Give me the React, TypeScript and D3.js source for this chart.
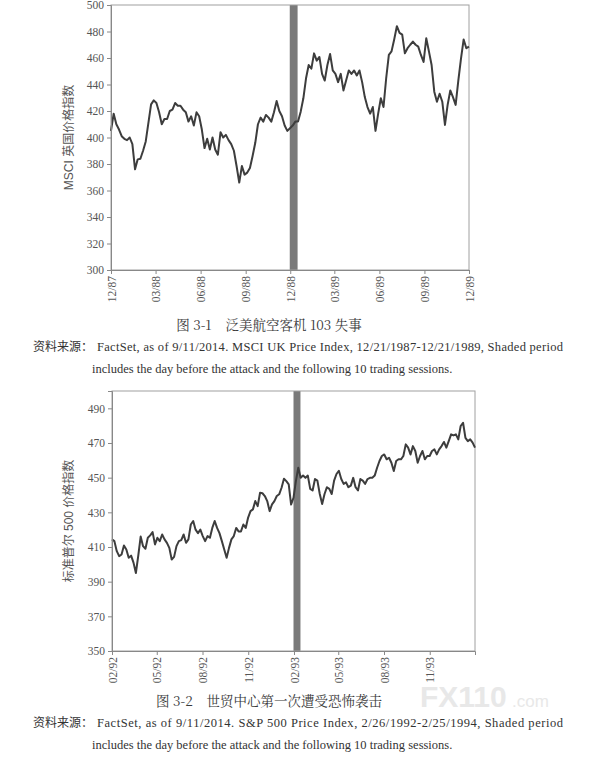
import React, { useEffect, useRef } from "react";
import * as d3 from "d3";

// MSCI UK Price Index, 12/21/1987 - 12/21/1989 (Pan Am 103)
const ukRange = ["1987-12-21", "1989-12-21"];
const ukShade = ["1988-12-20", "1989-01-05"];
const ukTickDates = [
  "1987-12-21", "1988-03-21", "1988-06-21", "1988-09-21", "1988-12-21",
  "1989-03-21", "1989-06-21", "1989-09-21", "1989-12-21",
];
const ukYTicks = [300, 320, 340, 360, 380, 400, 420, 440, 460, 480, 500];
const ukValues = [
  405, 418, 410, 406, 401, 399, 398, 400, 395, 376, 383.5, 384, 390, 397, 411,
  425, 428, 426, 419, 410, 414, 414, 420, 421, 426, 424, 424, 421, 419, 412,
  416, 409, 419, 416, 406, 392, 399, 391, 400, 391, 387, 404, 400, 402, 398,
  395, 390, 378.5, 366, 378.5, 372, 373.5, 377, 386, 396, 410, 415, 412, 417,
  415, 412, 419, 427.5, 420, 416,
  409, 405, 407, 409, 412, 412, 419.5, 429.6, 444.7, 454.7, 452, 463.5, 458,
  460.8, 448, 443, 454.7, 463, 450.6, 448, 441.8, 448, 435.5, 443, 450.6, 448,
  450.6, 446.8, 450.6, 441.8, 430.5, 423, 418, 423, 405, 418, 429.6, 423,
  444.7, 462.3, 465, 474, 484, 479, 477.6, 463.5, 467.4, 470, 472.4, 470,
  468.6, 462.3, 457, 474.9, 465, 454.7, 434.6, 427, 433, 427, 409.5, 424.6,
  435.5, 430.5, 424.6, 443, 459.5, 474, 467.4, 468.6,
];

// S&P 500 Price Index, 2/26/1992 - 2/25/1994 (WTC 1993)
const spRange = ["1992-02-26", "1994-02-25"];
const spShade = ["1993-02-25", "1993-03-11"];
const spTickDates = [
  "1992-02-26", "1992-05-26", "1992-08-26", "1992-11-26",
  "1993-02-26", "1993-05-26", "1993-08-26", "1993-11-26",
];
const spYTicks = [350, 370, 390, 410, 430, 450, 470, 490];
const spValues = [
  414.4, 413.4, 407.6, 404.7, 405.7, 410.9, 408.6, 403.8, 405, 401,
  395, 405, 416, 410.5, 409, 415.3, 416.7, 418.6, 411.5, 415.3,
  413.4, 417.2, 414.4, 412.4, 409.5, 402.8, 404.3, 410.5, 413.4, 414,
  417.2, 412.4, 414.4, 423, 425, 420, 418, 420, 416.3, 413.4,
  416.3, 415.3, 421, 425, 421, 418, 413.4, 408.6, 403.8, 409.5,
  414.4, 416.3, 421, 419, 419, 423, 421, 427, 430.7, 431.7,
  436.5, 433.6, 441.3, 441, 439.4, 436.5, 430.7, 434.6, 436.5, 439.4,
  440.4, 444.2, 449.4, 448, 446.1,
  434.5, 438.4, 448, 455.7, 449.9, 451.2, 449.9, 451.2, 443.5, 442.6,
  449.2, 448.3, 440.6, 434.8, 440.6, 444.5, 443.5, 440.6, 448.3, 452.1,
  454, 449.2, 446.4, 447.3, 444.5, 445.4, 449.9, 444.5, 442.6, 449.2,
  448.3, 446.4, 449.2, 449.9, 449.9, 451.2, 455.7, 459.6, 462.5, 463.4,
  460.6, 461.5, 458.6, 453.8, 459.6, 460.6, 460.6, 462.5, 469.2, 467.3,
  463.4, 468.2, 465.4, 458.6, 462.5, 465.4, 460.6, 462.5, 462.5, 465.4,
  466.3, 463.4, 466.3, 468.2, 470.6, 467.3, 471.1, 475, 474.4, 475,
  472.1, 479.8, 481.7, 473, 471.1, 472.1, 470.2, 467.3,
];

const parse = d3.timeParse("%Y-%m-%d");
const serif = "'Liberation Serif', 'Times New Roman', serif";
const cjk = "'Noto Serif CJK SC', 'Noto Sans CJK SC', sans-serif";

type Cfg = {
  left: number; right: number; top: number; bottom: number;
  yDomain: [number, number]; yTicks: number[];
  range: string[]; shade: string[]; tickDates: string[];
  values: number[]; title: string;
};

function drawChart(svg: d3.Selection<SVGSVGElement, unknown, null, undefined>, c: Cfg) {
  const start = parse(c.range[0])!;
  const end = parse(c.range[1])!;
  const x = d3.scaleTime().domain([start, end]).range([c.left, c.right]);
  const y = d3.scaleLinear().domain(c.yDomain).range([c.bottom, c.top]);
  const n = c.values.length;
  // samples are evenly spread over the period
  const dateAt = (i: number) => new Date(+start + (i / (n - 1)) * (+end - +start));

  const g = svg.append("g");

  // shaded event window
  g.append("rect")
    .attr("x", x(parse(c.shade[0])!))
    .attr("y", c.top)
    .attr("width", x(parse(c.shade[1])!) - x(parse(c.shade[0])!))
    .attr("height", c.bottom - c.top)
    .attr("fill", "#7a7a7a");

  // frame
  g.append("rect")
    .attr("x", c.left).attr("y", c.top)
    .attr("width", c.right - c.left).attr("height", c.bottom - c.top)
    .attr("fill", "none").attr("stroke", "#a0a0a0").attr("stroke-width", 1);

  const line = d3.line<number>()
    .x((_, i) => x(dateAt(i)))
    .y((d) => y(d));

  g.append("path")
    .datum(c.values)
    .attr("d", line)
    .attr("fill", "none")
    .attr("stroke", "#3d3d3d")
    .attr("stroke-width", 2)
    .attr("stroke-linejoin", "round");

  // y axis
  const ya = g.append("g")
    .attr("transform", `translate(${c.left},0)`)
    .call(d3.axisLeft(y).tickValues(c.yTicks).tickSize(4).tickPadding(3).tickFormat(d3.format("d")));
  ya.select(".domain").attr("stroke", "#888");
  ya.selectAll("line").attr("stroke", "#888");
  ya.selectAll("text").attr("font-family", serif).attr("font-size", 11.5).attr("fill", "#555");

  // x axis, rotated labels
  const xa = g.append("g")
    .attr("transform", `translate(0,${c.bottom})`)
    .call(
      d3.axisBottom(x)
        .tickValues(c.tickDates.map((s) => parse(s)!))
        .tickSize(4)
        .tickFormat((d) => d3.timeFormat("%m/%y")(d as Date))
    );
  xa.select(".domain").attr("stroke", "#888");
  xa.selectAll("line").attr("stroke", "#888");
  xa.selectAll("text")
    .attr("transform", "rotate(-90)")
    .attr("text-anchor", "end")
    .attr("x", -6)
    .attr("y", 0)
    .attr("dy", "0.35em")
    .attr("font-family", serif)
    .attr("font-size", 11.5)
    .attr("fill", "#555");

  // axis title
  g.append("text")
    .attr("transform", `translate(69,${(c.top + c.bottom) / 2}) rotate(-90)`)
    .attr("text-anchor", "middle")
    .attr("dy", "0.35em")
    .attr("font-family", "'Liberation Sans', 'Noto Sans CJK SC', sans-serif")
    .attr("font-size", 12)
    .attr("fill", "#555")
    .text(c.title);
}

function caption(svg: d3.Selection<SVGSVGElement, unknown, null, undefined>, yCap: number, fig: string, name: string, src: string) {
  svg.append("text")
    .attr("x", 269).attr("y", yCap)
    .attr("text-anchor", "middle")
    .attr("font-family", cjk)
    .attr("font-size", 13.5)
    .attr("fill", "#3a3a3a")
    .attr("xml:space", "preserve")
    .text(`${fig}    ${name}`);

  svg.append("text")
    .attr("x", 33).attr("y", yCap + 21)
    .attr("font-family", "'Noto Sans CJK SC', sans-serif")
    .attr("font-size", 12)
    .attr("fill", "#333")
    .text("资料来源：");

  // first line is justified to the full text width
  svg.append("text")
    .attr("x", 97).attr("y", yCap + 21)
    .attr("font-family", serif)
    .attr("font-size", 12.5)
    .attr("fill", "#333")
    .attr("textLength", 466)
    .attr("lengthAdjust", "spacing")
    .text(src);

  svg.append("text")
    .attr("x", 92).attr("y", yCap + 43)
    .attr("font-family", serif)
    .attr("font-size", 12.5)
    .attr("fill", "#333")
    .text("includes the day before the attack and the following 10 trading sessions.");
}

const App = () => {
  const svgRef = useRef<SVGSVGElement | null>(null);

  useEffect(() => {
    const svg = d3.select(svgRef.current!);
    svg.selectAll("*").remove();

    svg.append("rect").attr("width", 595).attr("height", 761).attr("fill", "#fff");

    drawChart(svg, {
      left: 111, right: 469, top: 5, bottom: 270,
      yDomain: [300, 500], yTicks: ukYTicks,
      range: ukRange, shade: ukShade, tickDates: ukTickDates,
      values: ukValues, title: "MSCI 英国价格指数",
    });
    caption(svg, 330, "图 3-1", "泛美航空客机 103 失事",
      "FactSet, as of 9/11/2014. MSCI UK Price Index, 12/21/1987-12/21/1989, Shaded period");

    // faint watermark, kept just above the source line
    svg.append("text")
      .attr("x", 420).attr("y", 707)
      .attr("font-family", "'Liberation Sans', sans-serif")
      .attr("font-weight", "bold")
      .attr("font-size", 30)
      .attr("fill", "#e8e8e8")
      .text("FX110");
    svg.append("text")
      .attr("x", 512).attr("y", 707)
      .attr("font-family", "'Liberation Sans', sans-serif")
      .attr("font-size", 17)
      .attr("fill", "#e8e8e8")
      .text(".com");

    drawChart(svg, {
      left: 112, right: 475, top: 391, bottom: 651,
      yDomain: [350, 500], yTicks: spYTicks,
      range: spRange, shade: spShade, tickDates: spTickDates,
      values: spValues, title: "标准普尔 500 价格指数",
    });
    caption(svg, 706, "图 3-2", "世贸中心第一次遭受恐怖袭击",
      "FactSet, as of 9/11/2014. S&P 500 Price Index, 2/26/1992-2/25/1994, Shaded period");
  }, []);

  return (
    <svg
      ref={svgRef}
      width={595}
      height={761}
      style={{ position: "absolute", left: 0, top: 0 }}
    />
  );
};

export default App;
